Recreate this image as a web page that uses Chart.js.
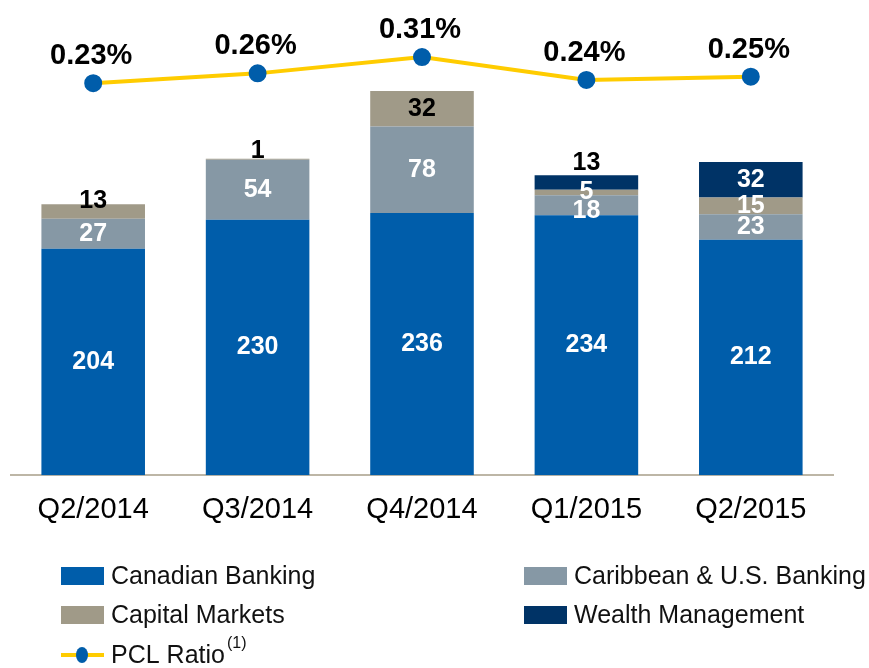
<!DOCTYPE html>
<html>
<head>
<meta charset="utf-8">
<script src="https://cdn.jsdelivr.net/npm/chart.js@4.4.0/dist/chart.umd.min.js"></script>
<style>
  html, body { margin: 0; padding: 0; background: #fff; }
  #wrap { width: 869px; height: 668px; }
</style>
</head>
<body>
<div id="wrap"><canvas id="pclChart" width="869" height="668"></canvas></div>
<script>
// data
const quarters = ['Q2/2014', 'Q3/2014', 'Q4/2014', 'Q1/2015', 'Q2/2015'];
const canadianBanking = [204, 230, 236, 234, 212];
const caribbeanBanking = [27, 54, 78, 18, 23];
const capitalMarkets = [13, 1, 32, 5, 15];
const wealthManagement = [null, null, null, 13, 32];
const pclRatio = [0.23, 0.26, 0.31, 0.24, 0.25];

const FONT = '"Liberation Sans", Arial, sans-serif';

// label look per bar segment (colour, vertical nudge), bar datasets only
const labelColors = [
  ['#fff', '#fff', '#fff', '#fff', '#fff'],
  ['#fff', '#fff', '#fff', '#fff', '#fff'],
  ['#000', '#000', '#000', '#fff', '#fff'],
  ['#fff', '#fff', '#fff', '#000', '#fff']
];
const labelNudge = [
  [0, 0, 0, 0, 0],
  [0, 0, 0, 6, 0],
  [-10, -8, 0, 0, 0],
  [0, 0, 0, -19, 0]
];

const segmentLabels = {
  id: 'segmentLabels',
  afterDatasetsDraw(chart) {
    const ctx = chart.ctx;
    ctx.save();
    ctx.textAlign = 'center';
    ctx.textBaseline = 'middle';
    let barIdx = 0;
    chart.data.datasets.forEach((ds, di) => {
      const meta = chart.getDatasetMeta(di);
      if (ds.type === 'line') {
        ctx.font = 'bold 29px ' + FONT;
        ctx.fillStyle = '#000';
        meta.data.forEach((pt, i) => {
          ctx.fillText(ds.data[i].toFixed(2) + '%', pt.x - 2, pt.y - 27);
        });
        return;
      }
      const b = barIdx++;
      ctx.font = 'bold 25px ' + FONT;
      meta.data.forEach((bar, i) => {
        const v = ds.data[i];
        if (v === null || v === undefined) return;
        const mid = (bar.y + bar.base) / 2;
        ctx.fillStyle = labelColors[b][i];
        ctx.fillText(String(v), bar.x, mid + labelNudge[b][i]);
      });
    });
    ctx.restore();
  }
};

// hand drawn legend in two columns
const customLegend = {
  id: 'customLegend',
  afterDraw(chart) {
    const ctx = chart.ctx;
    const bars = chart.data.datasets.filter(d => d.type !== 'line');
    const cols = [61, 524];
    const rows = [576, 615, 655];
    ctx.save();
    ctx.font = '25px ' + FONT;
    ctx.textBaseline = 'middle';
    ctx.textAlign = 'left';
    bars.forEach((ds, i) => {
      const x = cols[i % 2];
      const y = rows[Math.floor(i / 2)];
      ctx.fillStyle = ds.backgroundColor;
      ctx.fillRect(x, y - 9, 43, 18);
      ctx.fillStyle = '#111';
      ctx.fillText(ds.label, x + 50, y + 1);
    });
    const line = chart.data.datasets.find(d => d.type === 'line');
    const y = rows[2];
    ctx.strokeStyle = line.borderColor;
    ctx.lineWidth = 4;
    ctx.beginPath();
    ctx.moveTo(cols[0], y);
    ctx.lineTo(cols[0] + 43, y);
    ctx.stroke();
    ctx.fillStyle = line.pointBackgroundColor;
    ctx.beginPath();
    ctx.ellipse(cols[0] + 21, y, 6, 8, 0, 0, Math.PI * 2);
    ctx.fill();
    ctx.fillStyle = '#111';
    ctx.fillText(line.label, cols[0] + 50, y + 1);
    const w = ctx.measureText(line.label).width;
    ctx.font = '16px ' + FONT;
    ctx.fillText('(1)', cols[0] + 52 + w, y - 11);
    ctx.restore();
  }
};

const ctx = document.getElementById('pclChart').getContext('2d');
new Chart(ctx, {
  data: {
    labels: quarters,
    datasets: [
      {
        type: 'line',
        label: 'PCL Ratio',
        data: pclRatio,
        yAxisID: 'y1',
        borderColor: '#FFCC00',
        borderWidth: 4,
        pointBackgroundColor: '#005DAA',
        pointBorderColor: '#005DAA',
        pointRadius: 7,
        tension: 0,
        order: 0
      },
      { type: 'bar', label: 'Canadian Banking', data: canadianBanking, backgroundColor: '#005DAA', stack: 's', order: 1 },
      { type: 'bar', label: 'Caribbean & U.S. Banking', data: caribbeanBanking, backgroundColor: '#8698A5', stack: 's', order: 1 },
      { type: 'bar', label: 'Capital Markets', data: capitalMarkets, backgroundColor: '#A09A88', stack: 's', order: 1 },
      { type: 'bar', label: 'Wealth Management', data: wealthManagement, backgroundColor: '#003366', stack: 's', order: 1 }
    ]
  },
  options: {
    responsive: false,
    animation: false,
    layout: { padding: { left: 5, right: 36, top: 31, bottom: 132 } },
    datasets: { bar: { categoryPercentage: 1, barPercentage: 0.63 } },
    plugins: { legend: { display: false }, tooltip: { enabled: false } },
    scales: {
      x: {
        stacked: true,
        grid: { display: false },
        border: { display: true, color: '#BDB6A6', width: 2 },
        ticks: { color: '#000', font: { family: FONT, size: 29 }, padding: 9 }
      },
      y: {
        stacked: true,
        display: false,
        min: 0,
        max: 400
      },
      y1: {
        display: false,
        min: -0.973,
        max: 0.39
      }
    }
  },
  plugins: [segmentLabels, customLegend]
});
</script>
</body>
</html>
